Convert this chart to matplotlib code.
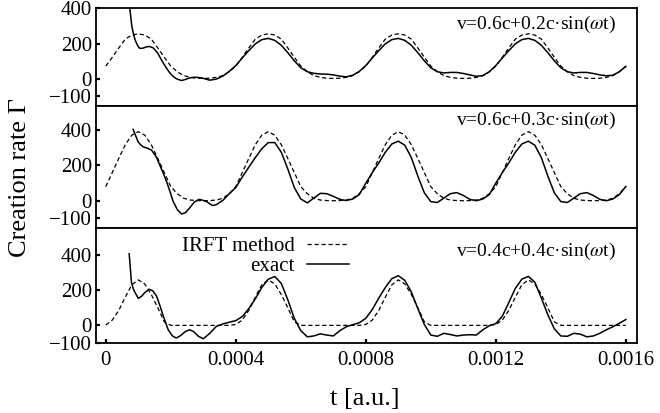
import numpy as np
import matplotlib
matplotlib.use('Agg')
import matplotlib.pyplot as plt

plt.rcParams['font.family'] = ['Liberation Serif', 'DejaVu Serif']
plt.rcParams['mathtext.fontset'] = 'stix'

# sample times of the read-off curves (step 0.00002)
t = np.linspace(0, 0.0016, 81)

# IRFT method (dashed), one value per sample time
irft_1 = [72, 122, 175, 225, 248, 255, 248, 225, 175, 122, 72, 40, 18, 8, 3, 2, 3, 8, 18, 40,
          72, 122, 175, 225, 248, 255, 248, 225, 175, 122, 72, 40, 18, 8, 3, 2, 3, 8, 18, 40,
          72, 122, 175, 225, 248, 255, 248, 225, 175, 122, 72, 40, 18, 8, 3, 2, 3, 8, 18, 40,
          72, 122, 175, 225, 248, 255, 248, 225, 175, 122, 72, 40, 18, 8, 3, 2, 3, 8, 18, 40,
          72]
irft_2 = [80, 160, 240, 318, 372, 392, 372, 318, 240, 160, 80, 40, 14, 4, 1, 0, 1, 4, 14, 40,
          80, 160, 240, 318, 372, 392, 372, 318, 240, 160, 80, 40, 14, 4, 1, 0, 1, 4, 14, 40,
          80, 160, 240, 318, 372, 392, 372, 318, 240, 160, 80, 40, 14, 4, 1, 0, 1, 4, 14, 40,
          80, 160, 240, 318, 372, 392, 372, 318, 240, 160, 80, 40, 14, 4, 1, 0, 1, 4, 14, 40,
          80]
irft_3 = [2, 30, 85, 160, 230, 258, 235, 175, 100, 20, 0, 0, 0, 0, 0, 0, 0, 0, 0, 0,
          5, 30, 85, 160, 230, 258, 235, 175, 100, 20, 0, 0, 0, 0, 0, 0, 0, 0, 0, 0,
          5, 30, 85, 160, 230, 258, 235, 175, 100, 20, 0, 0, 0, 0, 0, 0, 0, 0, 0, 0,
          5, 30, 85, 160, 230, 258, 235, 175, 100, 20, 0, 0, 0, 0, 0, 0, 0, 0, 0, 0,
          0]

# exact result (solid): irregular start, then values on t from 0.00034
exact_1_head_t = [0.00007, 0.0000738, 0.00008, 0.000085, 0.00009, 0.000095, 0.0001, 0.000105,
                  0.000115, 0.000125, 0.000135, 0.000146, 0.00016, 0.000171, 0.000185, 0.000197,
                  0.000207, 0.000217, 0.000233, 0.000245, 0.000258, 0.000275, 0.000295, 0.00031,
                  0.00032]
exact_1_head = [480, 400, 300, 255, 222, 200, 182, 172, 174, 181, 183, 175, 145, 108, 65, 33,
                14, 0, -10, -4, 5, 9, 5, -3, -8]
exact_1_tail = [-2, 15, 42, 75, 118, 160, 198, 222, 229, 218, 190, 148, 102, 62, 40, 31, 27, 26, 22, 15,
                11, 20, 42, 75, 118, 160, 198, 222, 229, 218, 190, 148, 102, 62, 40, 33, 36, 36, 30, 22,
                14, 18, 40, 75, 118, 160, 198, 222, 229, 218, 190, 148, 102, 62, 40, 33, 36, 36, 30, 22,
                17, 20, 40, 70]

exact_2_head_t = [0.000084, 0.00009, 0.0000995, 0.000107, 0.000115, 0.000128, 0.000141, 0.000155,
                  0.000166, 0.000177, 0.000187, 0.000197, 0.000207, 0.00022, 0.000233, 0.000245,
                  0.000258, 0.000272, 0.000287, 0.0003, 0.00031, 0.000328]
exact_2_head = [405, 378, 334, 318, 306, 298, 287, 250, 203, 155, 109, 55, -3, -50, -75, -68,
                -41, -8, 8, 2, -5, -27]
exact_2_tail = [-22, 2, 40, 75, 135, 190, 245, 295, 330, 330, 275, 180, 75, 10, -12, 15, 42, 40, 25, 8,
                1, 10, 35, 100, 160, 215, 275, 322, 338, 315, 245, 140, 45, -5, -10, 15, 40, 46, 30, 8,
                0, 10, 35, 100, 160, 215, 275, 322, 338, 315, 245, 140, 45, -5, -10, 15, 40, 46, 30, 8,
                0, 10, 35, 81]

exact_3_head_t = [0.000072, 0.000079, 0.000085, 0.00009, 0.0001, 0.00011, 0.00012, 0.000134,
                  0.000145, 0.000156, 0.000167, 0.000177, 0.000192, 0.000205, 0.000217, 0.00023,
                  0.000245, 0.000258, 0.00027, 0.000285, 0.0003, 0.00032]
exact_3_head = [406, 244, 205, 186, 153, 165, 186, 205, 195, 167, 110, 52, -25, -60, -72, -58,
                -35, -25, -35, -62, -76, -45]
exact_3_tail = [-6, 8, 18, 27, 50, 95, 150, 215, 262, 277, 238, 145, 40, -30, -65, -60, -48, -55, -60, -30,
                -8, 4, 15, 40, 90, 155, 215, 265, 282, 255, 190, 95, 5, -55, -62, -45, -52, -60, -55, -53,
                -55, -25, -2, 10, 52, 130, 210, 262, 278, 245, 155, 60, -20, -60, -62, -45, -50, -65, -60, -45,
                -25, -8, 12, 33]

labels = ['v=0.6c+0.2c\u00b7sin($\\omega$t)',
          'v=0.6c+0.3c\u00b7sin($\\omega$t)',
          'v=0.4c+0.4c\u00b7sin($\\omega$t)']
ylims = [(-155, 400), (-152, 537), (-100, 555)]
ytick_vals = [400, 200, 0, -100]
ytick_text = ['400', '200', '0', '\u2212100']
xtick_vals = [0, 0.0004, 0.0008, 0.0012, 0.0016]
xtick_text = ['0', '0.0004', '0.0008', '0.0012', '0.0016']

irft = [irft_1, irft_2, irft_3]
exact = [(exact_1_head_t, exact_1_head, exact_1_tail),
         (exact_2_head_t, exact_2_head, exact_2_tail),
         (exact_3_head_t, exact_3_head, exact_3_tail)]
label_y = [0.83, 0.885, 0.79]

fig = plt.figure(figsize=(6.6, 4.13), dpi=100)
gs = fig.add_gridspec(3, 1, height_ratios=[555, 689, 655], hspace=0,
                      left=0.1455, right=0.965, top=0.98, bottom=0.1695)
axes = [fig.add_subplot(gs[i]) for i in range(3)]

for i, ax in enumerate(axes):
    head_t, head_v, tail_v = exact[i]
    ex_t = np.concatenate([head_t, t[17:]])
    ex_v = np.concatenate([head_v, tail_v])
    ax.plot(t, irft[i], color='black', lw=0.9, linestyle=(0, (3.4, 2.2)), label='IRFT method')
    ax.plot(ex_t, ex_v, color='black', lw=1.1, label='exact')
    ax.set_xlim(-0.00003, 0.001634)
    ax.set_ylim(*ylims[i])
    ax.set_yticks(ytick_vals, ytick_text)
    ax.tick_params(axis='y', direction='in', length=3, width=1.6, labelsize=15, pad=3)
    for s in ax.spines.values():
        s.set_linewidth(1.3)
    ax.text(0.961, label_y[i], labels[i], transform=ax.transAxes,
            ha='right', va='center', fontsize=14)
    if i < 2:
        ax.tick_params(axis='x', bottom=False, labelbottom=False)
    else:
        ax.set_xticks(xtick_vals, xtick_text)
        ax.tick_params(axis='x', direction='in', length=3, width=1.6, labelsize=15, pad=6)

axes[2].legend(loc='upper right', bbox_to_anchor=(0.468, 0.92), frameon=False,
               markerfirst=False, fontsize=15, handlelength=2.0, handletextpad=0.6,
               labelspacing=0.0, borderpad=0, borderaxespad=0)

fig.text(0.03, 0.57, 'Creation rate \u0393', rotation=90, ha='center', va='center', fontsize=19)
fig.text(0.552, 0.034, 't [a.u.]', ha='center', va='center', fontsize=19)

fig.savefig('out.png', dpi=100)
